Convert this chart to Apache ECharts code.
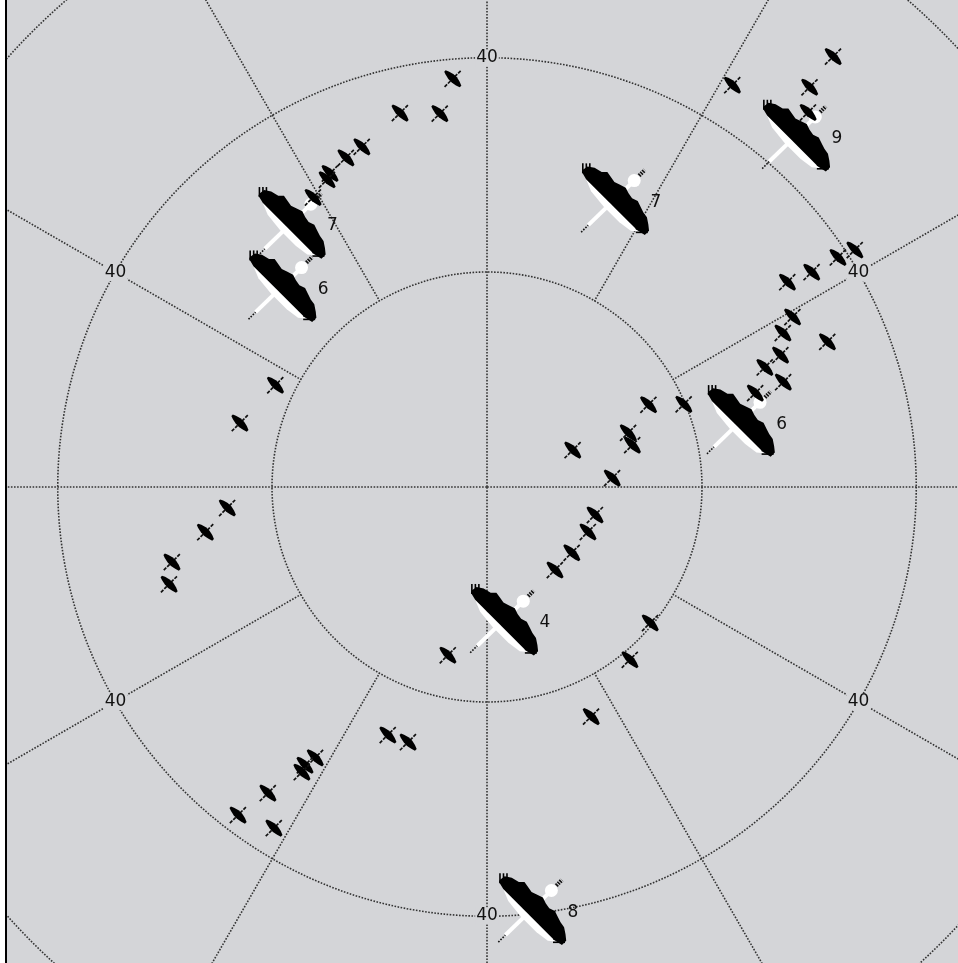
<!DOCTYPE html>
<html><head><meta charset="utf-8">
<script src="https://cdn.jsdelivr.net/npm/echarts@6/dist/echarts.min.js"></script>
<style>
html,body{margin:0;padding:0;background:#fff;overflow:hidden}
#edge{position:absolute;left:5px;top:0;width:2px;height:963px;background:#000}
#chart{position:absolute;left:7px;top:0;width:951px;height:963px}
</style></head><body>
<div id="edge"></div><div id="chart"></div>
<script>
// ---- data (range units, bearing degrees clockwise from north) ----
const smallRange = [38.2,35.8,35.1,33.8,33.4,32.7,32.3,31.5,
  51.5,43.9,47.9,46.0,
  40.8,39.1,36.3,33.9,32.6,31.1,30.0,28.2,29.3,34.5,26.5,19.9,16.9,14.1,14.1,8.7,11.7,
  10.4,10.3,10.0,10.0,19.8,20.9,23.5,16.1,
  24.9,24.9,29.9,31.0,31.7,35.1,38.4,37.5,
  24.3,26.6,30.2,31.0,23.8,21.9];
const smallBearing = [355.2,346.9,352.8,339.8,336.8,333.4,332.5,329.0,
  38.8,31.4,38.9,40.6,
  57.2,56.8,56.5,55.7,60.9,62.5,65.8,66.7,70.5,66.9,70.7,67.2,63.0,69.0,73.9,66.7,85.9,
  104.5,114.0,127.8,140.7,129.8,140.4,155.6,193.1,
  201.8,197.2,212.4,213.2,213.0,215.6,217.2,212.0,
  265.4,260.9,256.6,253.0,284.5,295.7];
const bigRange   = [30.5, 26.6, 29.3, 43.6, 24.5, 12.6, 39.7];
const bigBearing = [323.5, 314.4, 24.2, 41.5, 75.7, 172.4, 173.8];
const bigLabel   = ['7', '6', '7', '9', '6', '4', '8'];
const ringLabelRange   = [40, 40, 40, 40, 40, 40];
const ringLabelBearing = [0, 60, 120, 180, 240, 300];
const ringLabelText    = ['40', '40', '40', '40', '40', '40'];

const BG = '#d4d5d8', GRID = '#333';
const DOT = [1.6, 1.5];

function P(c, u, w) { return [c[0] + 0.7071 * (u + w), c[1] + 0.7071 * (u - w)]; }
function poly(c, pts) { return pts.map(p => P(c, p[0], p[1])); }
function seg(a, b) { return { x1: a[0], y1: a[1], x2: b[0], y2: b[1] }; }

const smallBody = [[-11,1],[-8,2.4],[-3,3.8],[2,4],[7,2.8],[11,1.2],[11,-1.2],[7,-2.4],[2,-3.4],[-3,-3.2],[-8,-2.1],[-11,-1]];
const bigWing = [[-45,-2],[-44,4],[-38,8],[-30,10],[-26,14],[-20,13],[-14,12],[-8,14],[-2,16],[4,14],[10,13],[16,15],[22,13],[28,11],[34,10],[40,6],[45,2],[45,-4],[36,-6],[-36,-6],[-44,-4]];
const bigStripe = [[-36,-6],[38,-6],[32,-11],[18,-13],[-4,-13],[-24,-11]];

function renderSmall(params, api) {
  const c = api.coord([api.value(0), api.value(1)]);
  return { type: 'group', children: [
    { type: 'line', shape: seg(P(c,0,-11.5), P(c,0,11.5)), style: { stroke: '#111', lineWidth: 1.7, lineDash: [3.5, 1.3] } },
    { type: 'polygon', shape: { points: poly(c, smallBody) }, style: { fill: '#000' } }
  ]};
}

function renderBig(params, api) {
  const c = api.coord([api.value(0), api.value(1)]);
  const ch = [];
  ch.push({ type: 'line', shape: seg(P(c,-2,-47), P(c,-2,-37)), style: { stroke: '#111', lineWidth: 1.6, lineDash: [1.6, 1.4] } });
  ch.push({ type: 'line', shape: seg(P(c,-2,-37), P(c,-1,24)), style: { stroke: '#fff', lineWidth: 4 } });
  ch.push({ type: 'polygon', shape: { points: poly(c, bigStripe) }, style: { fill: '#fff' } });
  ch.push({ type: 'polygon', shape: { points: poly(c, bigWing) }, style: { fill: '#000' } });
  const cc = P(c, -1, 27);
  ch.push({ type: 'circle', shape: { cx: cc[0], cy: cc[1], r: 6.5 }, style: { fill: '#fff' } });
  ch.push({ type: 'line', shape: seg(P(c,-1,34), P(c,-1,42)), style: { stroke: '#111', lineWidth: 4, lineDash: [1.6, 1] } });
  [-33, -29.5, -26].forEach(x => ch.push({ type: 'line', shape: { x1: c[0]+x, y1: c[1]-37, x2: c[0]+x, y2: c[1]-27 }, style: { stroke: '#000', lineWidth: 1.6 } }));
  [25, 28.5, 32].forEach(y => ch.push({ type: 'line', shape: { x1: c[0]+20, y1: c[1]+y, x2: c[0]+32, y2: c[1]+y }, style: { stroke: '#000', lineWidth: 1.6 } }));
  ch.push({ type: 'text', x: c[0] + 40, y: c[1] + 2, style: { text: bigLabel[params.dataIndex], font: '17px "DejaVu Sans"', fill: '#111', align: 'center', verticalAlign: 'middle' } });
  return { type: 'group', children: ch };
}

function renderRingLabel(params, api) {
  const c = api.coord([api.value(0), api.value(1)]);
  return { type: 'text', x: c[0], y: c[1], style: { text: ringLabelText[params.dataIndex], font: '17px "DejaVu Sans"', fill: '#111', align: 'center', verticalAlign: 'middle', backgroundColor: BG, padding: [0, 1] } };
}

const axisOff = { axisLine: { show: false }, axisTick: { show: false }, axisLabel: { show: false } };
const chart = echarts.init(document.getElementById('chart'), null, { renderer: 'canvas' });
chart.setOption({
  backgroundColor: BG,
  animation: false,
  polar: [
    { center: [480, 487], radius: [0, 643.5] },
    { center: [480, 487], radius: [215, 643.5] }
  ],
  angleAxis: [
    Object.assign({ polarIndex: 0, type: 'value', min: 0, max: 360, interval: 90, startAngle: 90, clockwise: true,
      splitLine: { show: true, lineStyle: { color: GRID, width: 1.6, type: DOT } } }, axisOff),
    Object.assign({ polarIndex: 1, type: 'value', min: 0, max: 360, interval: 30, startAngle: 90, clockwise: true,
      splitLine: { show: true, lineStyle: { color: ['rgba(0,0,0,0)', GRID, GRID], width: 1.6, type: DOT } } }, axisOff)
  ],
  radiusAxis: [
    Object.assign({ polarIndex: 0, type: 'value', min: 0, max: 60, splitLine: { show: false } }, axisOff),
    Object.assign({ polarIndex: 1, type: 'value', min: 20, max: 60, interval: 20,
      splitLine: { show: true, lineStyle: { color: GRID, width: 1.6, type: DOT } } }, axisOff)
  ],
  series: [
    { type: 'custom', coordinateSystem: 'polar', polarIndex: 0, silent: true,
      data: ringLabelRange.map((r, i) => [r, ringLabelBearing[i]]), renderItem: renderRingLabel, z: 3 },
    { type: 'custom', coordinateSystem: 'polar', polarIndex: 0, silent: true,
      data: bigRange.map((r, i) => [r, bigBearing[i]]), renderItem: renderBig, z: 4 },
    { type: 'custom', coordinateSystem: 'polar', polarIndex: 0, silent: true,
      data: smallRange.map((r, i) => [r, smallBearing[i]]), renderItem: renderSmall, z: 5 }
  ]
});
</script>
</body></html>
